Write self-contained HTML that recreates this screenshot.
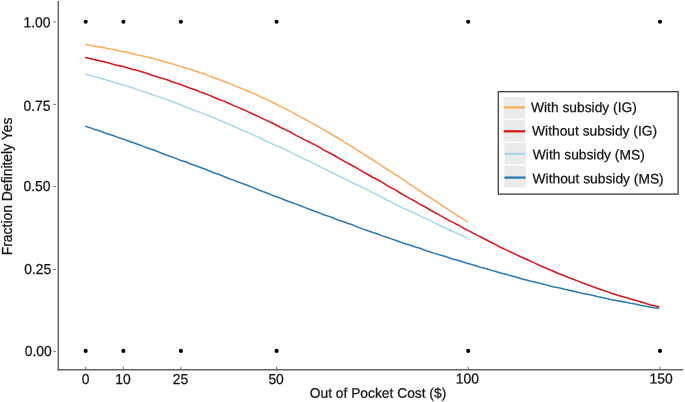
<!DOCTYPE html>
<html><head><meta charset="utf-8"><title>Fraction Definitely Yes vs Out of Pocket Cost</title>
<style>html,body{margin:0;padding:0;background:#fff;}svg{display:block;}text{font-family:"Liberation Sans",Arial,sans-serif;fill:#151515;stroke:#151515;stroke-width:0.25;}</style></head><body>
<svg width="685" height="402" viewBox="0 0 685 402">
<rect width="685" height="402" fill="#fff"/>
<path d="M85.1,126.12 L89.9,127.64 L94.7,129.47 L99.5,130.84 L104.2,132.68 L109.0,134.25 L113.8,135.78 L118.6,137.64 L123.4,139.12 L128.2,140.98 L132.9,142.52 L137.7,144.25 L142.5,146.11 L147.3,148.02 L152.1,149.45 L156.9,151.24 L161.7,153.18 L166.4,155.09 L171.2,156.69 L176.0,158.39 L180.8,160.44 L185.6,161.82 L190.4,163.97 L195.2,165.53 L199.9,167.27 L204.7,169.07 L209.5,170.98 L214.3,173.02 L219.1,174.57 L223.9,176.57 L228.6,178.42 L233.4,180.14 L238.2,182.05 L243.0,183.67 L247.8,185.50 L252.6,187.40 L257.4,189.45 L262.1,191.17 L266.9,192.95 L271.7,194.90 L276.5,196.67 L281.3,198.43 L286.1,200.47 L290.9,202.25 L295.6,203.87 L300.4,205.82 L305.2,207.61 L310.0,209.56 L314.8,211.29 L319.6,212.89 L324.4,214.98 L329.1,216.38 L333.9,218.28 L338.7,220.19 L343.5,221.67 L348.3,223.57 L353.1,225.11 L357.8,227.11 L362.6,228.87 L367.4,230.49 L372.2,232.32 L377.0,233.76 L381.8,235.61 L386.6,237.23 L391.3,238.87 L396.1,240.46 L400.9,242.26 L405.7,243.92 L410.5,245.32 L415.3,247.00 L420.0,248.31 L424.8,250.16 L429.6,251.68 L434.4,253.37 L439.2,254.82 L444.0,256.10 L448.8,257.64 L453.5,259.25 L458.3,260.43 L463.1,262.07 L467.9,263.38 L472.7,264.78 L477.5,266.16 L482.3,267.87 L487.0,268.96 L491.8,270.38 L496.6,271.79 L501.4,273.33 L506.2,274.30 L511.0,275.76 L515.8,277.09 L520.5,278.50 L525.3,279.73 L530.1,280.98 L534.9,281.95 L539.7,283.21 L544.5,284.38 L549.2,285.78 L554.0,286.97 L558.8,287.76 L563.6,288.90 L568.4,290.03 L573.2,291.13 L578.0,292.32 L582.7,293.43 L587.5,294.33 L592.3,295.25 L597.1,296.46 L601.9,297.44 L606.7,298.51 L611.5,299.66 L616.2,300.50 L621.0,301.37 L625.8,302.34 L630.6,303.28 L635.4,303.91 L640.2,305.17 L644.9,305.99 L649.7,306.89 L654.5,307.70 L659.3,308.35" fill="none" stroke="#2C7BB6" stroke-width="1.55" stroke-linejoin="round"/>
<path d="M85.1,74.13 L89.9,75.30 L94.7,76.84 L99.5,77.93 L104.2,79.30 L109.0,80.76 L113.8,82.16 L118.6,83.68 L123.4,85.03 L128.2,86.50 L132.9,88.10 L137.7,89.63 L142.5,91.32 L147.3,92.77 L152.1,94.78 L156.9,96.32 L161.7,97.80 L166.4,99.56 L171.2,101.34 L176.0,103.10 L180.8,104.79 L185.6,106.92 L190.4,108.82 L195.2,110.46 L199.9,112.36 L204.7,114.10 L209.5,116.04 L214.3,118.11 L219.1,120.06 L223.9,122.32 L228.6,124.06 L233.4,126.06 L238.2,128.54 L243.0,130.45 L247.8,132.40 L252.6,134.72 L257.4,136.65 L262.1,139.05 L266.9,141.44 L271.7,143.60 L276.5,145.76 L281.3,147.81 L286.1,150.12 L290.9,152.31 L295.6,154.86 L300.4,157.06 L305.2,159.48 L310.0,161.61 L314.8,163.89 L319.6,166.49 L324.4,168.92 L329.1,171.22 L333.9,173.57 L338.7,175.94 L343.5,178.28 L348.3,180.44 L353.1,182.94 L357.8,185.26 L362.6,187.49 L367.4,189.88 L372.2,192.37 L377.0,194.73 L381.8,197.30 L386.6,199.78 L391.3,201.92 L396.1,204.50 L400.9,206.87 L405.7,209.20 L410.5,211.27 L415.3,213.53 L420.0,215.84 L424.8,218.12 L429.6,220.41 L434.4,222.87 L439.2,225.25 L444.0,227.46 L448.8,229.53 L453.5,231.81 L458.3,234.07 L463.1,235.93 L467.9,238.34" fill="none" stroke="#ABD9E9" stroke-width="1.55" stroke-linejoin="round"/>
<path d="M85.1,44.58 L89.9,45.32 L94.7,46.14 L99.5,46.88 L104.2,47.64 L109.0,48.82 L113.8,49.57 L118.6,50.75 L123.4,51.83 L128.2,52.62 L132.9,53.69 L137.7,55.03 L142.5,56.07 L147.3,57.00 L152.1,58.19 L156.9,59.45 L161.7,61.07 L166.4,62.34 L171.2,63.41 L176.0,65.11 L180.8,66.62 L185.6,67.95 L190.4,69.34 L195.2,70.99 L199.9,72.41 L204.7,74.01 L209.5,76.12 L214.3,77.72 L219.1,79.44 L223.9,81.45 L228.6,83.10 L233.4,85.21 L238.2,87.15 L243.0,88.89 L247.8,90.97 L252.6,93.09 L257.4,95.21 L262.1,97.56 L266.9,99.66 L271.7,102.02 L276.5,104.23 L281.3,106.95 L286.1,109.13 L290.9,111.65 L295.6,114.22 L300.4,116.91 L305.2,119.30 L310.0,122.16 L314.8,124.66 L319.6,127.40 L324.4,130.15 L329.1,132.73 L333.9,135.75 L338.7,138.51 L343.5,141.33 L348.3,144.61 L353.1,147.30 L357.8,150.43 L362.6,153.56 L367.4,156.52 L372.2,159.49 L377.0,162.66 L381.8,165.78 L386.6,169.00 L391.3,171.84 L396.1,175.18 L400.9,178.20 L405.7,181.38 L410.5,184.76 L415.3,187.81 L420.0,191.01 L424.8,194.26 L429.6,197.49 L434.4,200.44 L439.2,203.67 L444.0,206.76 L448.8,209.88 L453.5,213.07 L458.3,216.05 L463.1,219.15 L467.9,222.17" fill="none" stroke="#FDAE61" stroke-width="1.55" stroke-linejoin="round"/>
<path d="M85.1,57.57 L89.9,58.54 L94.7,59.72 L99.5,60.87 L104.2,61.73 L109.0,63.05 L113.8,64.43 L118.6,65.63 L123.4,66.60 L128.2,67.90 L132.9,69.39 L137.7,70.60 L142.5,72.07 L147.3,73.44 L152.1,75.17 L156.9,76.72 L161.7,78.31 L166.4,79.56 L171.2,81.41 L176.0,83.02 L180.8,84.47 L185.6,86.50 L190.4,88.28 L195.2,89.73 L199.9,91.87 L204.7,93.47 L209.5,95.40 L214.3,97.54 L219.1,99.42 L223.9,101.11 L228.6,103.25 L233.4,105.34 L238.2,107.36 L243.0,109.42 L247.8,111.63 L252.6,113.99 L257.4,115.91 L262.1,118.39 L266.9,120.63 L271.7,122.76 L276.5,125.24 L281.3,127.74 L286.1,130.09 L290.9,132.32 L295.6,135.18 L300.4,137.58 L305.2,140.16 L310.0,142.31 L314.8,144.93 L319.6,147.40 L324.4,150.32 L329.1,152.71 L333.9,155.27 L338.7,158.05 L343.5,160.92 L348.3,163.56 L353.1,166.00 L357.8,168.64 L362.6,171.69 L367.4,174.25 L372.2,177.03 L377.0,179.49 L381.8,182.20 L386.6,185.21 L391.3,187.83 L396.1,190.41 L400.9,193.52 L405.7,196.11 L410.5,198.90 L415.3,201.30 L420.0,204.34 L424.8,206.69 L429.6,209.73 L434.4,212.22 L439.2,214.82 L444.0,217.56 L448.8,220.35 L453.5,222.67 L458.3,225.19 L463.1,227.94 L467.9,230.36 L472.7,232.82 L477.5,235.35 L482.3,237.77 L487.0,240.29 L491.8,242.76 L496.6,245.15 L501.4,247.72 L506.2,249.85 L511.0,252.25 L515.8,254.39 L520.5,256.71 L525.3,258.78 L530.1,261.06 L534.9,263.11 L539.7,265.54 L544.5,267.54 L549.2,269.43 L554.0,271.57 L558.8,273.76 L563.6,275.34 L568.4,277.56 L573.2,279.27 L578.0,281.14 L582.7,283.09 L587.5,284.67 L592.3,286.46 L597.1,288.24 L601.9,290.03 L606.7,291.39 L611.5,293.20 L616.2,294.71 L621.0,296.21 L625.8,297.60 L630.6,299.04 L635.4,300.34 L640.2,301.77 L644.9,303.11 L649.7,304.74 L654.5,305.83 L659.3,307.06" fill="none" stroke="#D7191C" stroke-width="1.55" stroke-linejoin="round"/>
<circle cx="85.7" cy="350.92" r="2.05" fill="#000"/>
<circle cx="85.7" cy="21.76" r="2.05" fill="#000"/>
<circle cx="123.4" cy="350.92" r="2.05" fill="#000"/>
<circle cx="123.4" cy="21.76" r="2.05" fill="#000"/>
<circle cx="180.9" cy="350.92" r="2.05" fill="#000"/>
<circle cx="180.9" cy="21.76" r="2.05" fill="#000"/>
<circle cx="276.6" cy="350.92" r="2.05" fill="#000"/>
<circle cx="276.6" cy="21.76" r="2.05" fill="#000"/>
<circle cx="468.2" cy="350.92" r="2.05" fill="#000"/>
<circle cx="468.2" cy="21.76" r="2.05" fill="#000"/>
<circle cx="660.0" cy="350.92" r="2.05" fill="#000"/>
<circle cx="660.0" cy="21.76" r="2.05" fill="#000"/>
<path d="M58.3,1 V370.5" fill="none" stroke="#646464" stroke-width="1.5"/>
<path d="M57.55,369.75 H683.3" fill="none" stroke="#646464" stroke-width="1.5"/>
<line x1="53.3" x2="56.1" y1="21.88" y2="21.88" stroke="#606060" stroke-width="0.9"/>
<text transform="translate(50.5,27.15) rotate(0.05) scale(1,1.04)" font-size="13.9" text-anchor="end">1.00</text>
<line x1="53.3" x2="56.1" y1="104.40" y2="104.40" stroke="#606060" stroke-width="0.9"/>
<text transform="translate(50.5,110.85) rotate(0.05) scale(1,1.04)" font-size="13.9" text-anchor="end">0.75</text>
<line x1="53.3" x2="56.1" y1="186.60" y2="186.60" stroke="#606060" stroke-width="0.9"/>
<text transform="translate(50.5,190.95) rotate(0.05) scale(1,1.04)" font-size="13.9" text-anchor="end">0.50</text>
<line x1="53.3" x2="56.1" y1="269.50" y2="269.50" stroke="#606060" stroke-width="0.9"/>
<text transform="translate(51.2,273.90) rotate(0.05) scale(1,1.04)" font-size="13.9" text-anchor="end">0.25</text>
<line x1="53.3" x2="56.1" y1="351.30" y2="351.30" stroke="#606060" stroke-width="0.9"/>
<text transform="translate(51.8,355.95) rotate(0.05) scale(1,1.04)" font-size="13.9" text-anchor="end">0.00</text>
<line x1="85.7" x2="85.7" y1="366.8" y2="369.2" stroke="#606060" stroke-width="0.9"/>
<text transform="translate(85.5,384.1) rotate(0.05) scale(1,1.04)" font-size="13.9" text-anchor="middle">0</text>
<line x1="123.4" x2="123.4" y1="366.8" y2="369.2" stroke="#606060" stroke-width="0.9"/>
<text transform="translate(122.9,384.1) rotate(0.05) scale(1,1.04)" font-size="13.9" text-anchor="middle">10</text>
<line x1="180.9" x2="180.9" y1="366.8" y2="369.2" stroke="#606060" stroke-width="0.9"/>
<text transform="translate(180.4,384.0) rotate(0.05) scale(1,1.04)" font-size="13.9" text-anchor="middle">25</text>
<line x1="276.6" x2="276.6" y1="366.8" y2="369.2" stroke="#606060" stroke-width="0.9"/>
<text transform="translate(276.1,384.0) rotate(0.05) scale(1,1.04)" font-size="13.9" text-anchor="middle">50</text>
<line x1="468.2" x2="468.2" y1="366.8" y2="369.2" stroke="#606060" stroke-width="0.9"/>
<text transform="translate(467.3,383.5) rotate(0.05) scale(1,1.04)" font-size="13.9" text-anchor="middle">100</text>
<line x1="660.0" x2="660.0" y1="366.8" y2="369.2" stroke="#606060" stroke-width="0.9"/>
<text transform="translate(661.1,383.5) rotate(0.05) scale(1,1.04)" font-size="13.9" text-anchor="middle">150</text>
<text transform="translate(378,397.8) rotate(0.05)" font-size="13.8" text-anchor="middle">Out of Pocket Cost ($)</text>
<text transform="translate(11.5,186.4) rotate(-90)" font-size="13.95" text-anchor="middle">Fraction Definitely Yes</text>
<rect x="498.25" y="91.7" width="179.85" height="102.4" fill="#fff" stroke="#2e2e2e" stroke-width="1.2"/>
<rect x="503.8" y="97.00" width="21.3" height="21.6" fill="#EBEBEB"/>
<line x1="503.8" x2="525.1" y1="107.4" y2="107.4" stroke="#FDAE61" stroke-width="2.3"/>
<text transform="translate(531.0,112.0) rotate(0.05)" font-size="13.8">With subsidy (IG)</text>
<rect x="503.8" y="119.95" width="21.3" height="21.6" fill="#EBEBEB"/>
<line x1="503.8" x2="525.1" y1="131.3" y2="131.3" stroke="#D7191C" stroke-width="2.3"/>
<text transform="translate(532.1,135.5) rotate(0.05)" font-size="13.8">Without subsidy (IG)</text>
<rect x="504.5" y="142.90" width="21.3" height="21.6" fill="#EBEBEB"/>
<line x1="504.5" x2="525.8" y1="153.8" y2="153.8" stroke="#ABD9E9" stroke-width="2.3"/>
<text transform="translate(532.8,159.3) rotate(0.05)" font-size="13.8">With subsidy (MS)</text>
<rect x="504.4" y="165.85" width="21.3" height="21.6" fill="#EBEBEB"/>
<line x1="504.4" x2="525.7" y1="177.6" y2="177.6" stroke="#2C7BB6" stroke-width="2.3"/>
<text transform="translate(532.6,183.3) rotate(0.05)" font-size="13.8">Without subsidy (MS)</text>
</svg></body></html>
